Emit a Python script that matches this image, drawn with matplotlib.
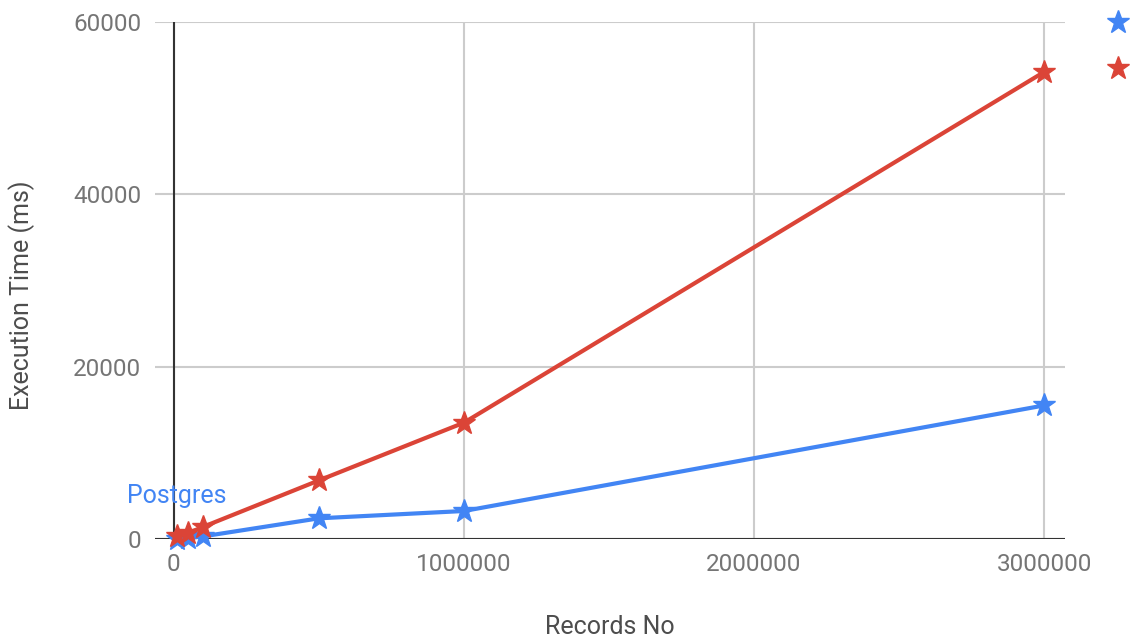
import matplotlib
matplotlib.use("Agg")
import matplotlib.pyplot as plt
from matplotlib.lines import Line2D

plt.rcParams['font.family'] = ['Roboto', 'DejaVu Sans']

records = [10000, 50000, 100000, 500000, 1000000, 3000000]
postgres = [50, 100, 300, 2400, 3250, 15500]
other = [300, 700, 1400, 6800, 13500, 54200]
x_ticks = [0, 1000000, 2000000, 3000000]
y_ticks = [0, 20000, 40000, 60000]

blue = '#4285F4'
red = '#DB4437'
grey = '#757575'

fig = plt.figure(figsize=(11.35, 6.41), dpi=100)
ax = fig.add_axes([155/1135, 1 - 539/641, 910/1135, 517/641])

ax.plot(records, postgres, color=blue, lw=3, marker='*', ms=17, clip_on=False, zorder=3)
ax.plot(records, other, color=red, lw=3, marker='*', ms=17, clip_on=False, zorder=4)

ax.annotate('Postgres', (records[0], postgres[0]), xytext=(0, 31), textcoords='offset points',
            ha='center', va='center', color=blue, fontsize=18)

ax.set_xlim(-65000, 3072000)
ax.set_ylim(0, 60000)
ax.set_xticks(x_ticks)
ax.set_yticks(y_ticks)
ax.set_xticklabels([str(v) for v in x_ticks])
ax.set_yticklabels([str(v) for v in y_ticks])
ax.tick_params(length=0, labelsize=17.5, labelcolor=grey, pad=10)
ax.grid(True, color='#cccccc', lw=1.5)
ax.set_axisbelow(True)
for s in ax.spines.values():
    s.set_visible(False)
ax.axhline(0, color='#333333', lw=1.5, zorder=2)
ax.axvline(0, color='#333333', lw=1.5, zorder=2)

fig.text(610/1135, 1 - 627/641, 'Records No', ha='center', va='center', fontsize=18, color='#4d4d4d')
fig.text(22/1135, 1 - 295/641, 'Execution Time (ms)', ha='center', va='center', rotation=90,
         fontsize=18, color='#4d4d4d')

# legend markers (labels cut off on the right)
fig.add_artist(Line2D([1118/1135], [1 - 22/641], marker='*', ms=17, color=blue, lw=0,
                      transform=fig.transFigure))
fig.add_artist(Line2D([1118/1135], [1 - 68/641], marker='*', ms=17, color=red, lw=0,
                      transform=fig.transFigure))

fig.savefig('out.png', dpi=100)
